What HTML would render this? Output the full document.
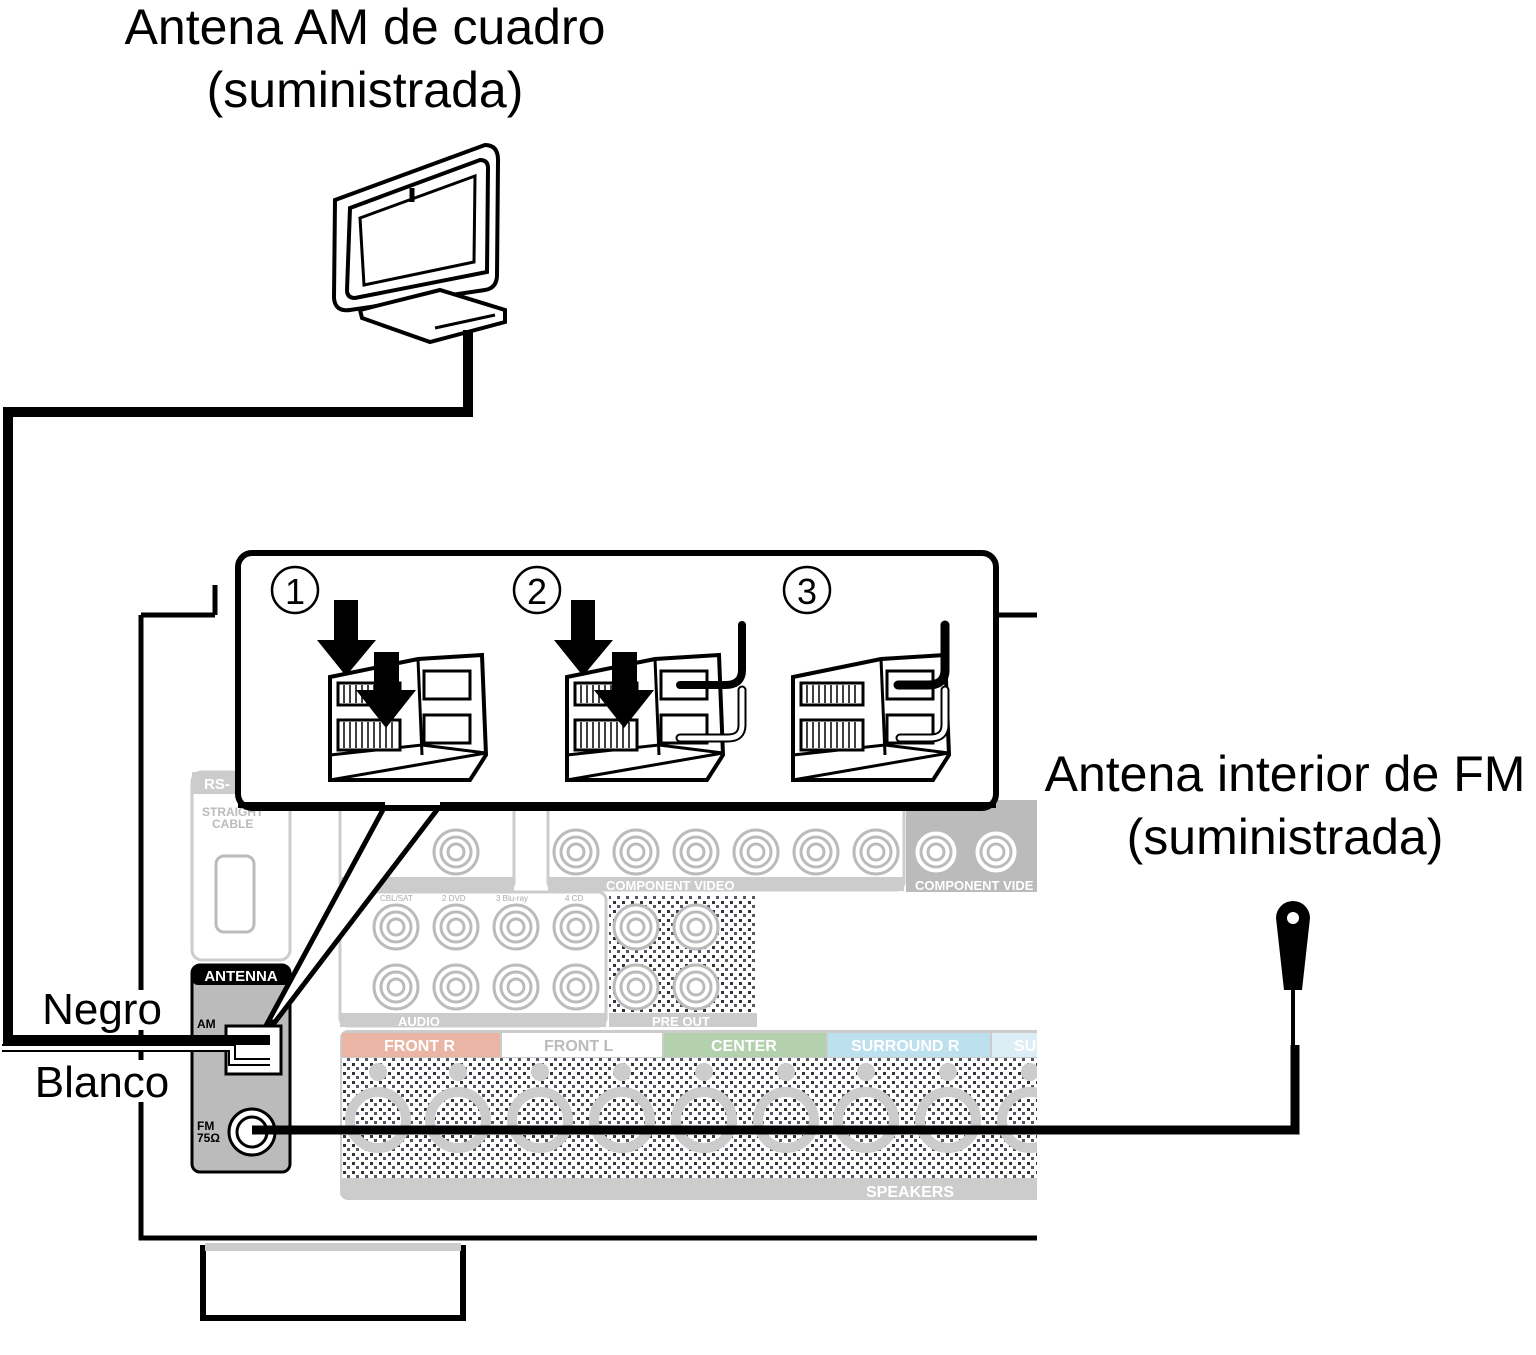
<!DOCTYPE html>
<html><head><meta charset="utf-8"><style>
html,body{margin:0;padding:0;background:#fff}
svg{display:block}
text{font-family:"Liberation Sans",sans-serif}
</style></head><body>
<svg width="1536" height="1355" viewBox="0 0 1536 1355" xmlns="http://www.w3.org/2000/svg">
<defs>
<pattern id="dots" width="9" height="9" patternUnits="userSpaceOnUse">
<rect width="9" height="9" fill="#fff"/><rect x="1" y="1" width="3" height="3" fill="#333"/><rect x="5" y="5" width="3" height="3" fill="#556"/>
</pattern>
<clipPath id="spk"><rect x="340" y="1030" width="697" height="170"/></clipPath>
<g id="jack"><circle r="22" fill="#fff" stroke="#bbb" stroke-width="3"/><circle r="15" fill="none" stroke="#bbb" stroke-width="3"/><circle r="8" fill="none" stroke="#bbb" stroke-width="3"/></g>
<g id="term">
<polygon points="0,22 88,4 152,0 156,100 140,125 0,125" fill="#fff" stroke="#000" stroke-width="4"/>
<line x1="88" y1="4" x2="92" y2="100" stroke="#000" stroke-width="3"/>
<polygon points="0,125 0,100 92,90 156,98" fill="none" stroke="#000" stroke-width="3"/>
<rect x="8" y="28" width="62" height="22" fill="#fff" stroke="#000" stroke-width="3"/>
<rect x="8" y="65" width="62" height="30" fill="#fff" stroke="#000" stroke-width="3"/>
<g stroke="#000" stroke-width="1.5"><path d="M14 30v18M20 30v18M26 30v18M32 30v18M38 30v18M44 30v18M50 30v18M56 30v18M62 30v18M14 67v26M20 67v26M26 67v26M32 67v26M38 67v26M44 67v26M50 67v26M56 67v26M62 67v26"/></g>
<rect x="94" y="16" width="46" height="28" fill="#fff" stroke="#000" stroke-width="3"/>
<rect x="94" y="60" width="46" height="28" fill="#fff" stroke="#000" stroke-width="3"/>
</g>
</defs>

<text x="365" y="44" font-size="50" text-anchor="middle">Antena AM de cuadro</text>
<text x="365" y="107" font-size="50" text-anchor="middle">(suministrada)</text>
<text x="1285" y="791" font-size="50" text-anchor="middle">Antena interior de FM</text>
<text x="1285" y="854" font-size="50" text-anchor="middle">(suministrada)</text>

<g fill="none" stroke="#000" stroke-width="4">
<path d="M335 200 L485 145 Q498 145 498 160 L497 275 Q497 288 485 290 L350 310 Q335 312 334 298 Z" fill="#fff"/>
<path d="M350 208 L480 160 Q488 160 488 168 L487 272 L355 298 Q347 298 347 290 Z"/>
<path d="M360 218 L475 176 L474 262 L364 285 Z" stroke-width="3"/>
<path d="M360 310 L440 290 L505 310 L505 322 L430 342 L362 318 Z" fill="#fff"/>
<path d="M435 328 L495 315" stroke-width="3"/>
<path d="M412 188 v14" stroke-width="5"/>
</g>

<g stroke="#000" stroke-width="5" fill="none">
<path d="M215 585 V615 M141 615 H215 M141 615 V1238 H1037 M996 615 H1037"/>
<path d="M203 1245 V1318 H463 V1245" stroke-width="6"/>
</g>
<rect x="205" y="1243" width="256" height="8" fill="#ccc"/>

<g fill="none" stroke="#ccc" stroke-width="3">
<rect x="192" y="772" width="98" height="188" rx="10"/>
<rect x="340" y="800" width="174" height="90" rx="8"/>
<rect x="548" y="800" width="356" height="90" rx="8"/>
<rect x="340" y="892" width="266" height="134" rx="8"/>
</g>
<rect x="906" y="800" width="131" height="92" fill="#bbb"/>
<rect x="192" y="772" width="98" height="22" fill="#ccc"/>
<text x="204" y="789" font-size="15" fill="#fff" font-weight="bold">RS-</text>
<text x="202" y="816" font-size="12" fill="#bbb" font-weight="bold">STRAIGHT</text>
<text x="212" y="828" font-size="12" fill="#bbb" font-weight="bold">CABLE</text>
<rect x="216" y="856" width="38" height="76" rx="8" fill="none" stroke="#bbb" stroke-width="3"/>
<rect x="340" y="877" width="174" height="14" fill="#ccc"/>
<rect x="548" y="877" width="356" height="14" fill="#ccc"/>
<text x="606" y="890" font-size="13" fill="#fff" font-weight="bold">COMPONENT VIDEO</text>
<text x="915" y="890" font-size="13" fill="#fff" font-weight="bold">COMPONENT VIDE</text>
<use href="#jack" x="456" y="852"/>
<use href="#jack" x="576" y="852"/><use href="#jack" x="636" y="852"/><use href="#jack" x="696" y="852"/>
<use href="#jack" x="756" y="852"/><use href="#jack" x="816" y="852"/><use href="#jack" x="876" y="852"/>
<use href="#jack" x="936" y="852"/><use href="#jack" x="996" y="852"/>
<g font-size="8" fill="#aaa"><text x="380" y="901">CBL/SAT</text><text x="442" y="901">2 DVD</text><text x="496" y="901">3 Blu-ray</text><text x="565" y="901">4 CD</text></g>
<use href="#jack" x="396" y="927"/><use href="#jack" x="456" y="927"/><use href="#jack" x="516" y="927"/><use href="#jack" x="576" y="927"/>
<use href="#jack" x="396" y="987"/><use href="#jack" x="456" y="987"/><use href="#jack" x="516" y="987"/><use href="#jack" x="576" y="987"/>
<rect x="340" y="1013" width="266" height="14" fill="#ccc"/>
<text x="398" y="1026" font-size="13" fill="#fff" font-weight="bold">AUDIO</text>
<rect x="609" y="895" width="148" height="118" fill="url(#dots)"/>
<use href="#jack" x="636" y="927"/><use href="#jack" x="696" y="927"/><use href="#jack" x="636" y="987"/><use href="#jack" x="696" y="987"/>
<rect x="609" y="1013" width="148" height="14" fill="#ccc"/>
<text x="652" y="1026" font-size="13" fill="#fff" font-weight="bold">PRE OUT</text>

<g clip-path="url(#spk)">
<rect x="340" y="1030" width="710" height="170" rx="8" fill="#ccc"/>
<rect x="342" y="1058" width="700" height="120" fill="url(#dots)"/>
<rect x="342" y="1033" width="158" height="24" fill="#eab5a5"/>
<rect x="502" y="1033" width="160" height="24" fill="#fff"/>
<rect x="664" y="1033" width="162" height="24" fill="#b3d1ac"/>
<rect x="828" y="1033" width="162" height="24" fill="#bde0ee"/>
<rect x="992" y="1033" width="50" height="24" fill="#dceef5"/>
<g font-size="16" font-weight="bold" fill="#fff">
<text x="384" y="1051">FRONT R</text><text x="544" y="1051" fill="#bbb">FRONT L</text>
<text x="711" y="1051">CENTER</text><text x="851" y="1051">SURROUND R</text><text x="1014" y="1051">SU</text>
<text x="866" y="1197">SPEAKERS</text></g>
<g fill="none" stroke="#ccc" stroke-width="10">
<circle cx="378" cy="1120" r="28"/><circle cx="458" cy="1120" r="28"/><circle cx="540" cy="1120" r="28"/><circle cx="622" cy="1120" r="28"/>
<circle cx="704" cy="1120" r="28"/><circle cx="786" cy="1120" r="28"/><circle cx="866" cy="1120" r="28"/><circle cx="948" cy="1120" r="28"/><circle cx="1030" cy="1120" r="28"/>
</g>
<g fill="#ccc">
<circle cx="378" cy="1072" r="9"/><circle cx="458" cy="1072" r="9"/><circle cx="540" cy="1072" r="9"/><circle cx="622" cy="1072" r="9"/>
<circle cx="704" cy="1072" r="9"/><circle cx="786" cy="1072" r="9"/><circle cx="866" cy="1072" r="9"/><circle cx="948" cy="1072" r="9"/><circle cx="1030" cy="1072" r="9"/>
</g>
</g>

<rect x="192" y="965" width="98" height="207" rx="8" fill="#bbb" stroke="#000" stroke-width="3"/>
<rect x="192" y="965" width="98" height="20" rx="6" fill="#000"/>
<text x="241" y="981" font-size="15" font-weight="bold" fill="#fff" text-anchor="middle">ANTENNA</text>
<text x="197" y="1028" font-size="12" font-weight="bold">AM</text>
<text x="197" y="1130" font-size="12" font-weight="bold">FM</text>
<text x="197" y="1142" font-size="12" font-weight="bold">75Ω</text>
<rect x="226" y="1026" width="55" height="48" fill="#fff" stroke="#000" stroke-width="3"/>
<circle cx="252" cy="1132" r="23" fill="#fff" stroke="#000" stroke-width="3"/>
<circle cx="252" cy="1132" r="15" fill="none" stroke="#000" stroke-width="3"/>

<polygon points="385,806 440,806 275,1022 268,1022" fill="#fff" stroke="#000" stroke-width="5"/>
<rect x="238" y="553" width="758" height="255" rx="14" fill="#fff" stroke="#000" stroke-width="6"/>
<line x1="238" y1="805" x2="385" y2="805" stroke="#000" stroke-width="6"/>
<line x1="440" y1="805" x2="996" y2="805" stroke="#000" stroke-width="6"/>
<g fill="none" stroke="#000" stroke-width="2.5">
<circle cx="295" cy="590" r="23"/><circle cx="537" cy="590" r="23"/><circle cx="807" cy="590" r="23"/></g>
<g font-size="36" text-anchor="middle"><text x="295" y="604">1</text><text x="537" y="604">2</text><text x="807" y="604">3</text></g>
<use href="#term" x="330" y="655"/><use href="#term" x="567" y="655"/><use href="#term" x="793" y="655"/>
<g fill="none" stroke-linecap="round">
<path d="M742 625 V670 Q742 685 725 685 H680" stroke="#000" stroke-width="8"/>
<path d="M742 690 V725 Q742 738 728 738 H680" stroke="#000" stroke-width="9"/>
<path d="M742 690 V725 Q742 738 728 738 H680" stroke="#fff" stroke-width="5"/>
<path d="M945 625 V670 Q945 685 928 685 H898" stroke="#000" stroke-width="9"/>
<path d="M945 690 V725 Q945 738 930 738 H900" stroke="#000" stroke-width="9"/>
<path d="M945 690 V725 Q945 738 930 738 H900" stroke="#fff" stroke-width="5"/>
</g>
<g fill="#000">
<polygon points="334,600 358,600 358,640 376,640 346,676 317,640 334,640"/>
<polygon points="374,652 399,652 399,690 416,690 386,728 356,690 374,690"/>
<polygon points="571,600 595,600 595,640 613,640 583,676 554,640 571,640"/>
<polygon points="612,652 637,652 637,690 654,690 624,728 594,690 612,690"/>
</g>

<path d="M468 330 V412 H8 V1040 H270" fill="none" stroke="#000" stroke-width="10"/>
<path d="M2 1048 H232 V1062 H270" fill="none" stroke="#000" stroke-width="8"/>
<path d="M2 1048 H232 V1062 H270" fill="none" stroke="#fff" stroke-width="4"/>
<rect x="60" y="990" width="100" height="40" fill="#fff"/>
<text x="102" y="1024" font-size="44" text-anchor="middle">Negro</text>
<rect x="32" y="1060" width="140" height="42" fill="#fff"/>
<text x="102" y="1097" font-size="44" text-anchor="middle">Blanco</text>

<path d="M252 1130 H1295 V1045" fill="none" stroke="#000" stroke-width="9"/>
<path d="M1293 1045 V990" stroke="#000" stroke-width="4"/>
<path d="M1276 918 A17 17 0 1 1 1310 918 L1302 990 H1284 Z" fill="#000"/>
<circle cx="1293" cy="918" r="6" fill="#fff"/>
</svg>
</body></html>
